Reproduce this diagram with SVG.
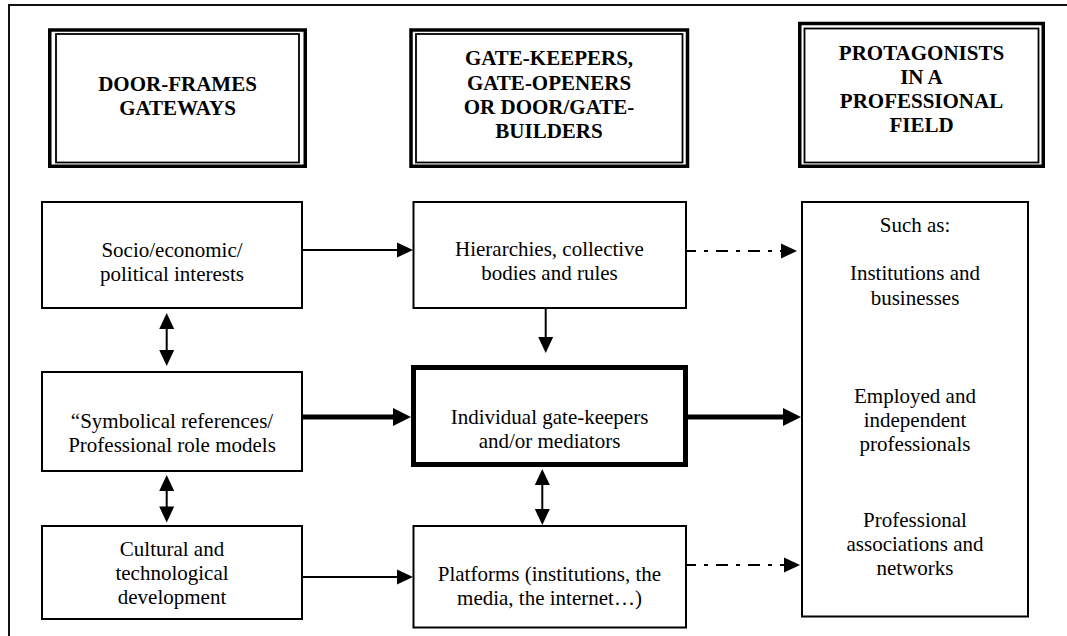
<svg xmlns="http://www.w3.org/2000/svg" width="1067" height="636" viewBox="0 0 1067 636">
<style>
  .frame{fill:none;stroke:#111;stroke-width:2}
  .box{fill:#fff;stroke:#000;stroke-width:2}
  .thick{fill:#fff;stroke:#000;stroke-width:5}
  .hout{fill:#fff;stroke:#000;stroke-width:3.5}
  .hin{fill:none;stroke:#000;stroke-width:1.8}
  .h{font-family:'Liberation Serif','Times New Roman','DejaVu Serif',serif;font-weight:bold;font-size:21px;text-anchor:middle;fill:#000}
  .t{font-family:'Liberation Serif','Times New Roman','DejaVu Serif',serif;font-size:21px;text-anchor:middle;fill:#000}
  .c{fill:none;stroke:#000;stroke-width:2}
  .cT{fill:none;stroke:#000;stroke-width:5}
  .dd{fill:none;stroke:#000;stroke-width:2.2;stroke-dasharray:12 8 4 8;stroke-dashoffset:2}
</style>
<defs>
  <marker id="ah" markerUnits="userSpaceOnUse" markerWidth="16" markerHeight="15" refX="1" refY="7.5" orient="auto-start-reverse" overflow="visible">
    <path d="M0,0 L16,7.5 L0,15 Z" fill="#000"/>
  </marker>
  <marker id="ahT" markerUnits="userSpaceOnUse" markerWidth="18" markerHeight="18" refX="1" refY="9" orient="auto" overflow="visible">
    <path d="M0,0 L18,9 L0,18 Z" fill="#000"/>
  </marker>
</defs>
<rect width="1067" height="636" fill="#fff"/>
<path class="frame" d="M9,636 V5 H1067"/>

<g id="header-doorframes">
  <rect class="hout" x="49.75" y="30" width="255.5" height="136.25"/>
  <rect class="hin" x="56" y="34" width="243" height="128.5"/>
  <text class="h" x="177.5" y="90.5" font-family="Liberation Serif, DejaVu Serif, serif">DOOR-FRAMES</text>
  <text class="h" x="177.5" y="114.5" font-family="Liberation Serif, DejaVu Serif, serif">GATEWAYS</text>
</g>
<g id="header-gatekeepers">
  <rect class="hout" x="411" y="30" width="276.5" height="136.25"/>
  <rect class="hin" x="416" y="34" width="266.5" height="128.5"/>
  <text class="h" x="549" y="65">GATE-KEEPERS,</text>
  <text class="h" x="549" y="89.5">GATE-OPENERS</text>
  <text class="h" x="549" y="114">OR DOOR/GATE-</text>
  <text class="h" x="549" y="138">BUILDERS</text>
</g>
<g id="header-protagonists">
  <rect class="hout" x="799.75" y="23.5" width="243.5" height="142.75"/>
  <rect class="hin" x="804.5" y="28.5" width="234" height="134"/>
  <text class="h" x="921.5" y="60">PROTAGONISTS</text>
  <text class="h" x="921.5" y="84">IN A</text>
  <text class="h" x="921.5" y="108">PROFESSIONAL</text>
  <text class="h" x="921.5" y="132">FIELD</text>
</g>

<g id="node-socio">
  <rect class="box" x="42" y="202" width="260" height="106"/>
  <text class="t" x="172" y="257">Socio/economic/</text>
  <text class="t" x="172" y="281">political interests</text>
</g>
<g id="node-symbolical">
  <rect class="box" x="42" y="372" width="260" height="99"/>
  <text class="t" x="172" y="428">“Symbolical references/</text>
  <text class="t" x="172" y="452">Professional role models</text>
</g>
<g id="node-cultural">
  <rect class="box" x="42" y="526" width="260" height="93"/>
  <text class="t" x="172" y="556">Cultural and</text>
  <text class="t" x="172" y="580">technological</text>
  <text class="t" x="172" y="604">development</text>
</g>
<g id="node-hierarchies">
  <rect class="box" x="413.5" y="202" width="272.5" height="106"/>
  <text class="t" x="549.5" y="256">Hierarchies, collective</text>
  <text class="t" x="549.5" y="280">bodies and rules</text>
</g>
<g id="node-individual">
  <rect class="thick" x="413.5" y="367.5" width="272" height="97"/>
  <text class="t" x="549.5" y="424">Individual gate-keepers</text>
  <text class="t" x="549.5" y="448">and/or mediators</text>
</g>
<g id="node-platforms">
  <rect class="box" x="413.5" y="526" width="272.5" height="101.5"/>
  <text class="t" x="549.5" y="580.5">Platforms (institutions, the</text>
  <text class="t" x="549.5" y="605">media, the internet…)</text>
</g>
<g id="node-protagonists">
  <rect class="box" x="802" y="202" width="226" height="414.5"/>
  <text class="t" x="915" y="231.5">Such as:</text>
  <text class="t" x="915" y="280">Institutions and</text>
  <text class="t" x="915" y="305">businesses</text>
  <text class="t" x="915" y="402.5">Employed and</text>
  <text class="t" x="915" y="426.5">independent</text>
  <text class="t" x="915" y="450.5">professionals</text>
  <text class="t" x="915" y="526.5">Professional</text>
  <text class="t" x="915" y="550.5">associations and</text>
  <text class="t" x="915" y="575">networks</text>
</g>

<g id="connectors">
  <path class="c" d="M302,250 H398" marker-end="url(#ah)"/>
  <path class="cT" d="M302,417 H394" marker-end="url(#ahT)"/>
  <path class="cT" d="M688,417 H784" marker-end="url(#ahT)"/>
  <path class="dd" d="M686,251 H782" marker-end="url(#ah)"/>
  <path class="dd" d="M686,565 H785" marker-end="url(#ah)"/>
  <path class="c" d="M302,577 H398" marker-end="url(#ah)"/>
  <path class="c" d="M545.7,308 V338" marker-end="url(#ah)"/>
  <path class="c" d="M542.3,484 V510" marker-start="url(#ah)" marker-end="url(#ah)"/>
  <path class="c" d="M166.7,328 V351" marker-start="url(#ah)" marker-end="url(#ah)"/>
  <path class="c" d="M166.7,490 V507.5" marker-start="url(#ah)" marker-end="url(#ah)"/>
</g>
</svg>
